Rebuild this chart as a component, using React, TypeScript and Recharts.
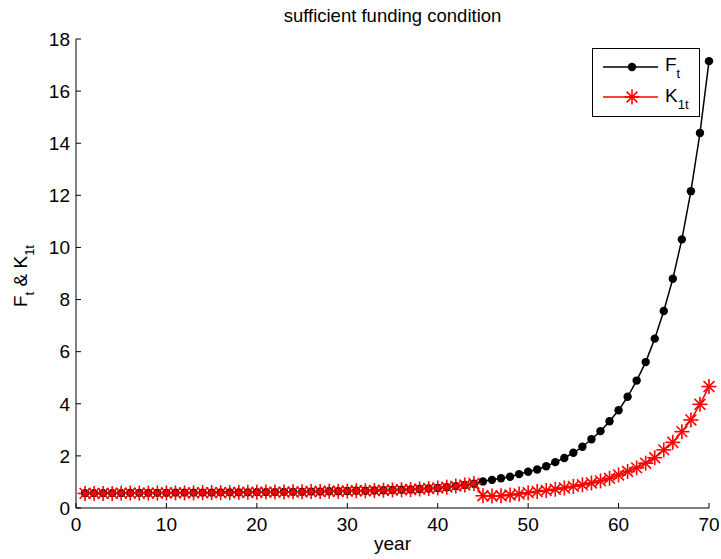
import React from 'react';
import { LineChart, Line, XAxis, YAxis, Legend } from 'recharts';

const years = [
  1, 2, 3, 4, 5, 6, 7, 8, 9, 10,
  11, 12, 13, 14, 15, 16, 17, 18, 19, 20,
  21, 22, 23, 24, 25, 26, 27, 28, 29, 30,
  31, 32, 33, 34, 35, 36, 37, 38, 39, 40,
  41, 42, 43, 44, 45, 46, 47, 48, 49, 50,
  51, 52, 53, 54, 55, 56, 57, 58, 59, 60,
  61, 62, 63, 64, 65, 66, 67, 68, 69, 70,
];

// F_t, the fund
const fundValues = [
  0.57, 0.57, 0.57, 0.57, 0.57, 0.58, 0.58, 0.58, 0.58, 0.58,
  0.59, 0.59, 0.59, 0.59, 0.59, 0.60, 0.60, 0.60, 0.60, 0.61,
  0.61, 0.61, 0.62, 0.62, 0.62, 0.63, 0.63, 0.64, 0.64, 0.65,
  0.66, 0.66, 0.67, 0.68, 0.69, 0.70, 0.71, 0.73, 0.75, 0.77,
  0.80, 0.84, 0.88, 0.93, 1.02, 1.08, 1.14, 1.20, 1.30, 1.39,
  1.48, 1.60, 1.76, 1.92, 2.12, 2.35, 2.64, 2.95, 3.33, 3.75,
  4.27, 4.89, 5.60, 6.50, 7.56, 8.80, 10.31, 12.16, 14.39, 17.15,
];

// K_1t
const k1Values = [
  0.56, 0.56, 0.56, 0.56, 0.57, 0.57, 0.57, 0.57, 0.57, 0.58,
  0.58, 0.58, 0.58, 0.59, 0.59, 0.59, 0.59, 0.60, 0.60, 0.60,
  0.61, 0.61, 0.61, 0.62, 0.62, 0.63, 0.63, 0.64, 0.64, 0.65,
  0.66, 0.66, 0.67, 0.68, 0.69, 0.70, 0.71, 0.73, 0.75, 0.77,
  0.80, 0.84, 0.88, 0.94, 0.47, 0.46, 0.47, 0.50, 0.54, 0.59,
  0.63, 0.67, 0.72, 0.77, 0.83, 0.89, 0.96, 1.04, 1.14, 1.27,
  1.40, 1.54, 1.72, 1.93, 2.23, 2.52, 2.93, 3.38, 3.98, 4.66,
];

const xTicks = [0, 10, 20, 30, 40, 50, 60, 70];
const yTicks = [0, 2, 4, 6, 8, 10, 12, 14, 16, 18];

const FONT = '"Liberation Sans", Arial, Helvetica, sans-serif';
const RED = '#ff0000';

const rows = years.map((year, i) => ({ year, F: fundValues[i], K: k1Values[i] }));

// matlab-style '*' marker
const Star = ({ cx, cy, size = 7.5 }: { cx: number; cy: number; size?: number }) => {
  const d = size * 0.72;
  return (
    <g stroke={RED} strokeWidth={1.6} fill="none">
      <line x1={cx - size} y1={cy} x2={cx + size} y2={cy} />
      <line x1={cx} y1={cy - size} x2={cx} y2={cy + size} />
      <line x1={cx - d} y1={cy - d} x2={cx + d} y2={cy + d} />
      <line x1={cx - d} y1={cy + d} x2={cx + d} y2={cy - d} />
    </g>
  );
};

const renderStar = (props: any) => {
  if (props.cx == null || props.cy == null) return <g key={`s-${props.index}`} />;
  return <Star key={`s-${props.index}`} cx={props.cx} cy={props.cy} />;
};

const LegendBox = () => (
  <svg width={108} height={69} style={{ display: 'block', fontFamily: FONT }}>
    <rect x={0.5} y={0.5} width={107} height={68} fill="#fff" stroke="#000" strokeWidth={1} />
    <line x1={11} y1={19} x2={66} y2={19} stroke="#000" strokeWidth={1.5} />
    <circle cx={40} cy={19} r={4.2} fill="#000" />
    <text x={73} y={23} fontSize={19} fill="#000">
      F<tspan fontSize={13} dy={7}>t</tspan>
    </text>
    <line x1={11} y1={49} x2={66} y2={49} stroke={RED} strokeWidth={1.5} />
    <Star cx={40} cy={49} />
    <text x={73} y={54} fontSize={19} fill="#000">
      K<tspan fontSize={13} dy={7}>1t</tspan>
    </text>
  </svg>
);

export default function App() {
  return (
    <div style={{ position: 'absolute', left: 0, top: 0, width: 721, height: 559, background: '#fff', fontFamily: FONT }}>
      <LineChart width={721} height={559} data={rows} margin={{ top: 39, right: 12, bottom: 0, left: 0 }}>
        <XAxis
          xAxisId="b"
          dataKey="year"
          type="number"
          domain={[0, 70]}
          ticks={xTicks}
          interval={0}
          height={51}
          tickSize={-5}
          tickMargin={15}
          axisLine={{ stroke: '#000' }}
          tickLine={{ stroke: '#000' }}
          tick={{ fill: '#000', fontSize: 19, fontFamily: FONT }}
        />
        <XAxis
          xAxisId="t"
          orientation="top"
          dataKey="year"
          type="number"
          domain={[0, 70]}
          ticks={xTicks}
          interval={0}
          height={0}
          tickSize={-5}
          tick={false}
          axisLine={{ stroke: '#000' }}
          tickLine={{ stroke: '#000' }}
        />
        <YAxis
          yAxisId="l"
          type="number"
          domain={[0, 18]}
          ticks={yTicks}
          interval={0}
          width={76}
          tickSize={-5}
          tickMargin={11}
          allowDataOverflow
          axisLine={{ stroke: '#000' }}
          tickLine={{ stroke: '#000' }}
          tick={{ fill: '#000', fontSize: 19, fontFamily: FONT }}
        />
        <YAxis
          yAxisId="r"
          orientation="right"
          type="number"
          domain={[0, 18]}
          ticks={yTicks}
          interval={0}
          width={0}
          tickSize={-5}
          tick={false}
          allowDataOverflow
          axisLine={{ stroke: '#000' }}
          tickLine={{ stroke: '#000' }}
        />
        <Legend
          layout="horizontal"
          verticalAlign="middle"
          align="center"
          content={() => <LegendBox />}
          wrapperStyle={{ position: 'absolute', left: 592, top: 48, width: 108, height: 69 }}
        />
        <Line
          xAxisId="b"
          yAxisId="l"
          type="linear"
          dataKey="F"
          stroke="#000"
          strokeWidth={1.5}
          dot={{ r: 4.2, fill: '#000', stroke: '#000', strokeWidth: 0 }}
          isAnimationActive={false}
        />
        <Line
          xAxisId="b"
          yAxisId="l"
          type="linear"
          dataKey="K"
          stroke={RED}
          strokeWidth={1.5}
          dot={renderStar}
          isAnimationActive={false}
        />
      </LineChart>
      <svg
        width={721}
        height={559}
        style={{ position: 'absolute', left: 0, top: 0, pointerEvents: 'none', fontFamily: FONT }}
      >
        <text x={392.5} y={22} textAnchor="middle" fontSize={18.5} fill="#000">
          sufficient funding condition
        </text>
        <text x={392.5} y={550} textAnchor="middle" fontSize={19} fill="#000">
          year
        </text>
        <text transform="translate(27,276) rotate(-90)" textAnchor="middle" fontSize={19} fill="#000">
          F<tspan fontSize={13} dy={7}>t</tspan>
          <tspan dy={-7}> &amp; K</tspan>
          <tspan fontSize={13} dy={7}>1t</tspan>
        </text>
      </svg>
    </div>
  );
}
